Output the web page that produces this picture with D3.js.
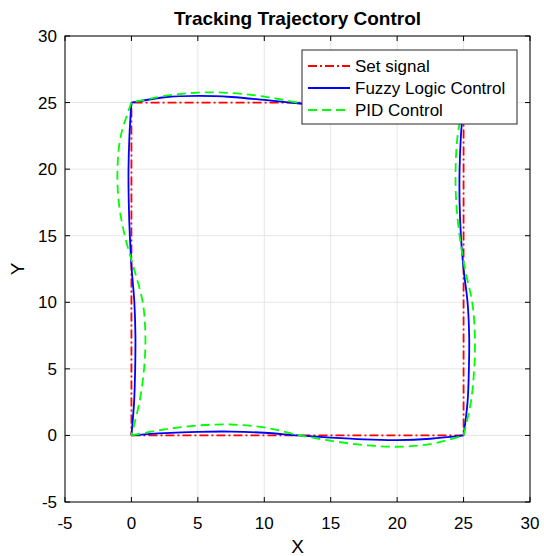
<!DOCTYPE html>
<html>
<head>
<meta charset="utf-8">
<script src="https://cdn.jsdelivr.net/npm/d3@7"></script>
<style>
  body { margin: 0; background: #fff; }
  text { font-family: "Liberation Sans", Arial, sans-serif; }
</style>
</head>
<body>
<div id="chart"></div>
<script>
var w = 544;
var h = 556;
var margin = { top: 36, right: 14, bottom: 54, left: 65 };

// axis ticks
var xTicks = [-5, 0, 5, 10, 15, 20, 25, 30];
var yTicks = [-5, 0, 5, 10, 15, 20, 25, 30];

// trajectory, one loop: (0,0) -> (25,0) -> (25,25) -> (0,25) -> (0,0)
// each edge has 11 points, corners shared
var setX = [0, 25, 25, 0, 0];
var setY = [0, 0, 25, 25, 0];

var fuzzyX = [0, 2.5, 5, 7.5, 10, 12.5, 15, 17.5, 20, 22.5, 25,
              25.3, 25.4, 25.42, 25.3, 25.0, 24.8, 24.7, 24.7, 24.8, 25,
              22.5, 20, 17.5, 15, 12.5, 10, 7.5, 5, 2.5, 0,
              -0.15, -0.22, -0.2, -0.12, 0.02, 0.22, 0.3, 0.28, 0.2, 0];
var fuzzyY = [0, 0.17, 0.27, 0.29, 0.2, 0.0, -0.17, -0.3, -0.35, -0.25, 0,
              2.5, 5, 7.5, 10, 12.5, 15, 17.5, 20, 22.5, 25,
              24.7, 24.6, 24.6, 24.7, 24.95, 25.2, 25.42, 25.5, 25.4, 25,
              22.5, 20, 17.5, 15, 12.5, 10, 7.5, 5, 2.5, 0];

var pidX = [0, 2.5, 5, 7.5, 10, 12.5, 15, 17.5, 20, 22.5, 25,
            25.55, 25.8, 25.85, 25.65, 25.1, 24.7, 24.45, 24.4, 24.55, 25,
            22.5, 20, 17.5, 15, 12.5, 10, 7.5, 5, 2.5, 0,
            -0.8, -1.05, -0.95, -0.5, 0.2, 0.85, 1.05, 0.95, 0.6, 0];
var pidY = [0, 0.45, 0.75, 0.82, 0.6, 0.05, -0.4, -0.72, -0.85, -0.65, 0,
            2.5, 5, 7.5, 10, 12.5, 15, 17.5, 20, 22.5, 25,
            24.45, 24.3, 24.35, 24.6, 25.0, 25.45, 25.72, 25.75, 25.5, 25,
            22.5, 20, 17.5, 15, 12.5, 10, 7.5, 5, 2.5, 0];

var xscale = d3.scaleLinear().domain([-5, 30]).range([margin.left, w - margin.right]);
var yscale = d3.scaleLinear().domain([-5, 30]).range([h - margin.bottom, margin.top]);

var svg = d3.select("#chart")
            .append("svg")
            .attr("width", w)
            .attr("height", h);

// grid
svg.append("g").selectAll("line")
   .data(xTicks)
   .enter()
   .append("line")
   .attr("x1", d => xscale(d)).attr("x2", d => xscale(d))
   .attr("y1", yscale(-5)).attr("y2", yscale(30))
   .attr("stroke", "#e6e6e6");
svg.append("g").selectAll("line")
   .data(yTicks)
   .enter()
   .append("line")
   .attr("y1", d => yscale(d)).attr("y2", d => yscale(d))
   .attr("x1", xscale(-5)).attr("x2", xscale(30))
   .attr("stroke", "#e6e6e6");

// draws a loop edge by edge so the corners stay sharp
function toPoints(xs, ys) {
    return xs.map((x, i) => [x, ys[i]]);
}
var smooth = d3.line()
               .x(d => xscale(d[0]))
               .y(d => yscale(d[1]))
               .curve(d3.curveCatmullRom);

function drawLoop(xs, ys, color, dash) {
    var pts = toPoints(xs, ys);
    var edges = [];
    for (var k = 0; k + 10 < pts.length; k += 10) edges.push(pts.slice(k, k + 11));
    svg.append("path")
       .attr("d", edges.map(e => smooth(e)).join(""))
       .attr("fill", "none")
       .attr("stroke", color)
       .attr("stroke-width", 1.8)
       .attr("stroke-dasharray", dash);
}

// set signal
svg.append("path")
   .attr("d", d3.line().x(d => xscale(d[0])).y(d => yscale(d[1]))(toPoints(setX, setY)))
   .attr("fill", "none")
   .attr("stroke", "#ff0000")
   .attr("stroke-width", 1.8)
   .attr("stroke-dasharray", "9,3,2,3");

drawLoop(fuzzyX, fuzzyY, "#0000ff", null);
drawLoop(pidX, pidY, "#00ff00", "9,5");

// box
svg.append("rect")
   .attr("x", xscale(-5)).attr("y", yscale(30))
   .attr("width", xscale(30) - xscale(-5))
   .attr("height", yscale(-5) - yscale(30))
   .attr("fill", "none")
   .attr("stroke", "#000")
   .attr("stroke-width", 1);

// inward ticks on all four sides
var tickLen = 5;
var tg = svg.append("g").attr("stroke", "#000");
xTicks.forEach(function(t) {
    tg.append("line").attr("x1", xscale(t)).attr("x2", xscale(t))
      .attr("y1", yscale(-5)).attr("y2", yscale(-5) - tickLen);
    tg.append("line").attr("x1", xscale(t)).attr("x2", xscale(t))
      .attr("y1", yscale(30)).attr("y2", yscale(30) + tickLen);
});
yTicks.forEach(function(t) {
    tg.append("line").attr("y1", yscale(t)).attr("y2", yscale(t))
      .attr("x1", xscale(-5)).attr("x2", xscale(-5) + tickLen);
    tg.append("line").attr("y1", yscale(t)).attr("y2", yscale(t))
      .attr("x1", xscale(30)).attr("x2", xscale(30) - tickLen);
});

// tick labels
svg.selectAll("text.xt")
   .data(xTicks)
   .enter()
   .append("text")
   .attr("class", "xt")
   .attr("x", d => xscale(d))
   .attr("y", yscale(-5) + 27)
   .attr("text-anchor", "middle")
   .style("font-size", "17px")
   .text(d => d);

svg.selectAll("text.yt")
   .data(yTicks)
   .enter()
   .append("text")
   .attr("class", "yt")
   .attr("x", xscale(-5) - 8)
   .attr("y", d => yscale(d) + 6)
   .attr("text-anchor", "end")
   .style("font-size", "17px")
   .text(d => d);

// axis labels and title
svg.append("text")
   .attr("x", (xscale(-5) + xscale(30)) / 2)
   .attr("y", h - 3)
   .attr("text-anchor", "middle")
   .style("font-size", "19px")
   .text("X");

svg.append("text")
   .attr("transform", "translate(24," + ((yscale(-5) + yscale(30)) / 2) + ") rotate(-90)")
   .attr("text-anchor", "middle")
   .style("font-size", "19px")
   .text("Y");

svg.append("text")
   .attr("x", (xscale(-5) + xscale(30)) / 2)
   .attr("y", 25)
   .attr("text-anchor", "middle")
   .style("font-size", "19px")
   .style("font-weight", "bold")
   .text("Tracking Trajectory Control");

// legend
var legendNames = ["Set signal", "Fuzzy Logic Control", "PID Control"];
var legendColors = ["#ff0000", "#0000ff", "#00ff00"];
var legendDash = ["9,3,2,3", null, "9,5"];

var lg = svg.append("g").attr("transform", "translate(302,50)");
lg.append("rect")
  .attr("width", 215).attr("height", 74)
  .attr("fill", "#fff")
  .attr("stroke", "#262626")
  .attr("stroke-width", 1);
legendNames.forEach(function(name, i) {
    var y = 16 + i * 22;
    lg.append("line")
      .attr("x1", 6).attr("x2", 48)
      .attr("y1", y).attr("y2", y)
      .attr("stroke", legendColors[i])
      .attr("stroke-width", 1.8)
      .attr("stroke-dasharray", legendDash[i]);
    lg.append("text")
      .attr("x", 53).attr("y", y + 6)
      .style("font-size", "17px")
      .text(name);
});
</script>
</body>
</html>
